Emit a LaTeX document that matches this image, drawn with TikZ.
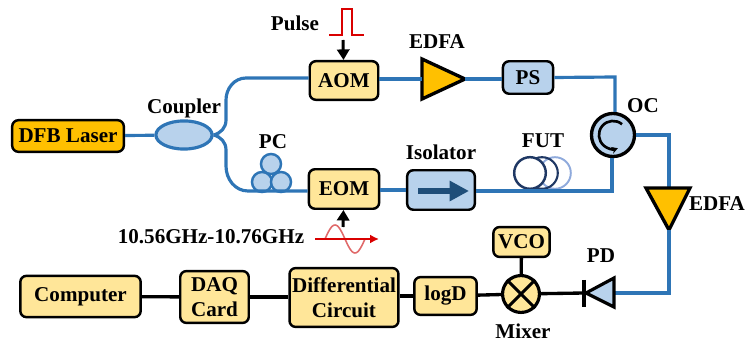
\documentclass[tikz,border=0pt]{standalone}
\usepackage{fontspec}
\setmainfont{Liberation Serif}
\usetikzlibrary{arrows.meta,shapes.geometric}
\definecolor{boxyellow}{HTML}{FFE699}
\definecolor{amporange}{HTML}{FFC000}
\definecolor{boxblue}{HTML}{B8D2EC}
\definecolor{fiberblue}{HTML}{2E75B6}
\definecolor{arrowblue}{HTML}{1F4E79}
\definecolor{coilblue}{HTML}{1F3864}
\definecolor{coilpale}{HTML}{8FAADC}
\definecolor{sinered}{HTML}{E06A6A}
\tikzset{
  lbl/.style={font=\bfseries\fontsize{12}{13}\selectfont, inner sep=0pt},
  box/.style={draw=black, line width=1.4pt, rounded corners=3.5pt, inner sep=0pt, align=center,
    font=\bfseries\fontsize{12}{14.5}\selectfont},
  yellowbox/.style={box, fill=boxyellow},
  bluebox/.style={box, fill=boxblue},
  fiber/.style={draw=fiberblue, line width=1.8pt},
  wire/.style={draw=black, line width=1.9pt},
  amp/.style={draw=black, line width=1.9pt, fill=amporange, line join=miter},
  sig/.style={-{Triangle[length=6pt,width=7pt]}, draw=black, line width=1.7pt},
  pcloop/.style={fill=boxblue, draw=fiberblue, line width=1.4pt},
}
\begin{document}
\begin{tikzpicture}[x=0.02cm,y=-0.02cm]
    \useasboundingbox (0,0) rectangle (745,344);

%   fiber branches go first, boxes sit on top
    \coordinate (pulseout) at (343,40);
    \coordinate (rfout) at (343,227);

    \node[box, fill=amporange, minimum width=63.5pt, minimum height=18pt] (laser) at (68,136) {DFB Laser};
    \node[ellipse, draw=fiberblue, line width=1.8pt, fill=boxblue, minimum width=32pt, minimum height=16pt, inner sep=0pt] (coupler) at (184,135) {};
    \node[yellowbox, minimum width=39pt, minimum height=22pt] (aom) at (344,80.5) {AOM};
    \node[yellowbox, minimum width=40pt, minimum height=22.5pt] (eom) at (344,189) {EOM};
    \node[bluebox, minimum width=28.5pt, minimum height=18.5pt] (ps) at (528,77.5) {PS};
    \node[bluebox, minimum width=38.5pt, minimum height=22.5pt] (iso) at (441,190) {};
    \node[circle, draw=black, line width=1.9pt, fill=boxblue, minimum size=24.5pt, inner sep=0pt] (oc) at (613,135) {};

    \node[yellowbox, minimum width=32pt, minimum height=17pt] (vco) at (521.5,242) {VCO};
    \node[circle, draw=black, line width=1.8pt, fill=boxyellow, minimum size=21pt, inner sep=0pt] (mixer) at (521,294) {};
    \node[yellowbox, minimum width=35.5pt, minimum height=21.5pt] (logd) at (445.5,296) {logD};
    \node[yellowbox, minimum width=62pt, minimum height=33.5pt] (diff) at (344,297.5) {Differential\\Circuit};
    \node[yellowbox, minimum width=39pt, minimum height=29.5pt] (daq) at (214.5,297) {DAQ\\Card};
    \node[yellowbox, minimum width=68.5pt, minimum height=23.5pt] (computer) at (80.5,296.5) {Computer};

    \draw[fiber] (laser) -- (coupler);
    \draw[fiber] (coupler.east) to[out=15,in=-90] (226,120) -- (226,100) to[out=90,in=180] (246,78) -- (aom.west|-0,78);

    \draw[pcloop] (271,164) circle (5.7pt);
    \draw[pcloop] (262,182) circle (5.7pt);
    \draw[pcloop] (281,182) circle (5.7pt);
    \draw[fiber] (coupler.east) to[out=-15,in=90] (226,150) -- (226,166) to[out=-90,in=180] (248,191) -- (eom.west|-0,191);

    \draw[amp] (422,59) -- (465,79) -- (422,99) -- cycle;
    \coordinate (ampin) at (422,79);
    \coordinate (ampout) at (465,79);
    \draw[fiber] (aom.east|-ampin) -- (ampin);
    \draw[fiber] (ampout) -- (ps.west|-ampout);
    \draw[fiber] (ps.east) -- (615,77) -- (oc.north-|615,0);
    \draw[fiber] (eom.east|-0,190) -- (iso.west|-0,190);

    \draw[draw=coilpale, line width=1.1pt] (555,173) circle (9pt);
    \draw[draw=coilblue, line width=1.2pt] (542,173) circle (9pt);
    \draw[draw=coilblue, line width=1.4pt, fill=white] (530,173) circle (9pt);
    \draw[fiber] (iso.east|-0,191) -- (612,191) -- (oc.south-|612,0);
    \draw[draw=arrowblue, line width=3.4pt, -{Triangle[length=11pt,width=11pt]}] (418,191) -- (469,191);

    \draw[line width=1.5pt, -{Stealth[length=3.5pt,width=4pt]}] ([shift={(50:8pt)}]oc.center) arc (50:290:8pt);

    \draw[fiber] (oc.east) -- (669,135) -- (669,188);
    \draw[amp] (646,188) -- (690,188) -- (669,230) -- cycle;
    \coordinate (pdin) at (614,293);
    \draw[fiber] (669,230) -- (669,293) -- (pdin);

    \draw[fill=boxblue, draw=black, line width=1.8pt, line join=miter] (614,278) -- (586,293) -- (614,307) -- cycle;
    \draw[line width=1.8pt] (584,280) -- (584,307);
    \draw[wire] (mixer) -- (584,293);
    \draw[wire] (vco) -- (mixer);
    \draw[wire] (logd) -- (mixer);
    \draw[wire] (diff.east|-logd) -- (logd);
    \draw[wire] (daq.east) -- (diff.west|-daq);
    \draw[wire] (computer) -- (daq);
    \draw[line width=1.8pt] (mixer.45) -- (mixer.225) (mixer.135) -- (mixer.315);

    \draw[red!85!black, line width=1.4pt] (329,35) -- (342,35) -- (342,9) -- (352,9) -- (352,35) -- (364,35);
    \draw[sig] (pulseout) -- (aom);
    \draw[sig] (rfout) -- (eom);
    \draw[sinered, line width=0.9pt, domain=0:1, samples=40, smooth] plot ({325+\x*40},{239-14*sin(360*\x)});
    \draw[red!85!black, line width=1.2pt, -{Latex[length=5pt,width=5pt]}] (315,239) -- (379,239);

    \node[lbl] (pulselbl) at (295,23) {Pulse};
    \node[lbl] (edfatop) at (437,42) {EDFA};
    \node[lbl] (couplerlbl) at (184,108) {Coupler};
    \node[lbl] (pclbl) at (273,142) {PC};
    \node[lbl] (oclbl) at (643,106) {OC};
    \node[lbl] (futlbl) at (543,141) {FUT};
    \node[lbl] (isolbl) at (441,152) {Isolator};
    \node[lbl] (rflbl) at (211,237) {10.56GHz-10.76GHz};
    \node[lbl] (edfaside) at (717,204) {EDFA};
    \node[lbl] (pdlbl) at (601,256) {PD};
    \node[lbl] (mixerlbl) at (523,331) {Mixer};
\end{tikzpicture}
\end{document}
